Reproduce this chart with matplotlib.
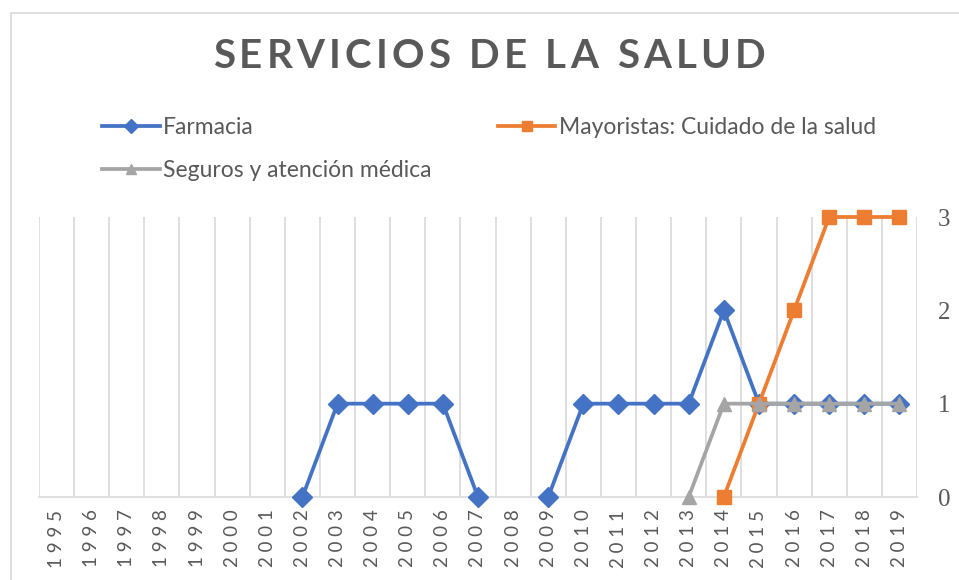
import numpy as np
import matplotlib
matplotlib.use("Agg")
import matplotlib.pyplot as plt
from matplotlib.patches import Rectangle

years = [str(y) for y in range(1995, 2020)]
nan = np.nan
farmacia = [nan] * 7 + [0, 1, 1, 1, 1, 0, nan, 0, 1, 1, 1, 1, 2, 1, 1, 1, 1, 1]
mayoristas = [nan] * 19 + [0, 1, 2, 3, 3, 3]
seguros = [nan] * 18 + [0, 1, 1, 1, 1, 1, 1]

series_names = ["Farmacia", "Mayoristas: Cuidado de la salud", "Seguros y atención médica"]
title = "SERVICIOS DE LA SALUD"
colors = ["#4472C4", "#ED7D31", "#A5A5A5"]
markers = ["D", "s", "^"]
text_grey = "#595959"

plt.rcParams["font.family"] = ["Lato", "DejaVu Sans"]

fig = plt.figure(figsize=(9.59, 5.8), dpi=100)
fig.patches.append(Rectangle((11 / 959, -0.1), 1.2, 1 - 13 / 580 + 0.1,
                             transform=fig.transFigure, fill=False,
                             edgecolor="#D9D9D9", linewidth=1.2))

ax = fig.add_axes([39 / 959, 1 - 497 / 580, (917 - 39) / 959, (497 - 217) / 580])
x = np.arange(len(years))
handles = []
for vals, name, c, m in zip([farmacia, mayoristas, seguros], series_names, colors, markers):
    ms = 10.5 if m != "s" else 10
    h, = ax.plot(x, vals, color=c, linewidth=2.7, marker=m, markersize=ms,
                 markeredgecolor=c, label=name, zorder=3, clip_on=False)
    handles.append(h)

ax.set_xlim(-0.5, len(years) - 0.5)
ax.set_ylim(0, 3)
ax.set_xticks(x)
# years are drawn spaced out, like the original
ax.set_xticklabels([" ".join(y) for y in years], rotation=90, fontsize=13.5,
                   color=text_grey)
ax.set_xticks(np.arange(-0.5, len(years)), minor=True)
ax.grid(True, which="minor", axis="x", color="#D9D9D9", linewidth=1.2)
ax.tick_params(axis="x", which="both", length=0, pad=9)
ax.yaxis.tick_right()
ax.set_yticks([0, 1, 2, 3])
ax.tick_params(axis="y", length=0, labelsize=18, labelcolor=text_grey, pad=15)
for lab in ax.get_yticklabels():
    lab.set_fontfamily(["Liberation Serif", "DejaVu Serif"])
for s in ["top", "left", "right"]:
    ax.spines[s].set_visible(False)
ax.spines["bottom"].set_color("#D9D9D9")
ax.spines["bottom"].set_linewidth(1.2)

# title with letter spacing: place each character by hand
renderer = fig.canvas.get_renderer()
gap = 4.2
chars = [fig.text(0, 0, ch, fontsize=29, fontweight="bold", color=text_grey, va="center")
         for ch in title]
widths = [t.get_window_extent(renderer).width if ch != " " else 10 for t, ch in zip(chars, title)]
total = sum(widths) + gap * (len(title) - 1)
xpos = 489 - total / 2
for t, w in zip(chars, widths):
    t.set_position((xpos / 959, 1 - 57 / 580))
    xpos += w + gap

order = [handles[0], handles[2], handles[1]]
fig.legend(order, [h.get_label() for h in order], ncol=2, frameon=False,
           loc="upper left", bbox_to_anchor=(91 / 959, 1 - 106 / 580),
           prop={"size": 16.5}, labelcolor=text_grey,
           handlelength=2.5, handletextpad=0.15, markerscale=0.7,
           columnspacing=2.9, labelspacing=0.95, borderpad=0)

fig.savefig("out.png", dpi=100)
